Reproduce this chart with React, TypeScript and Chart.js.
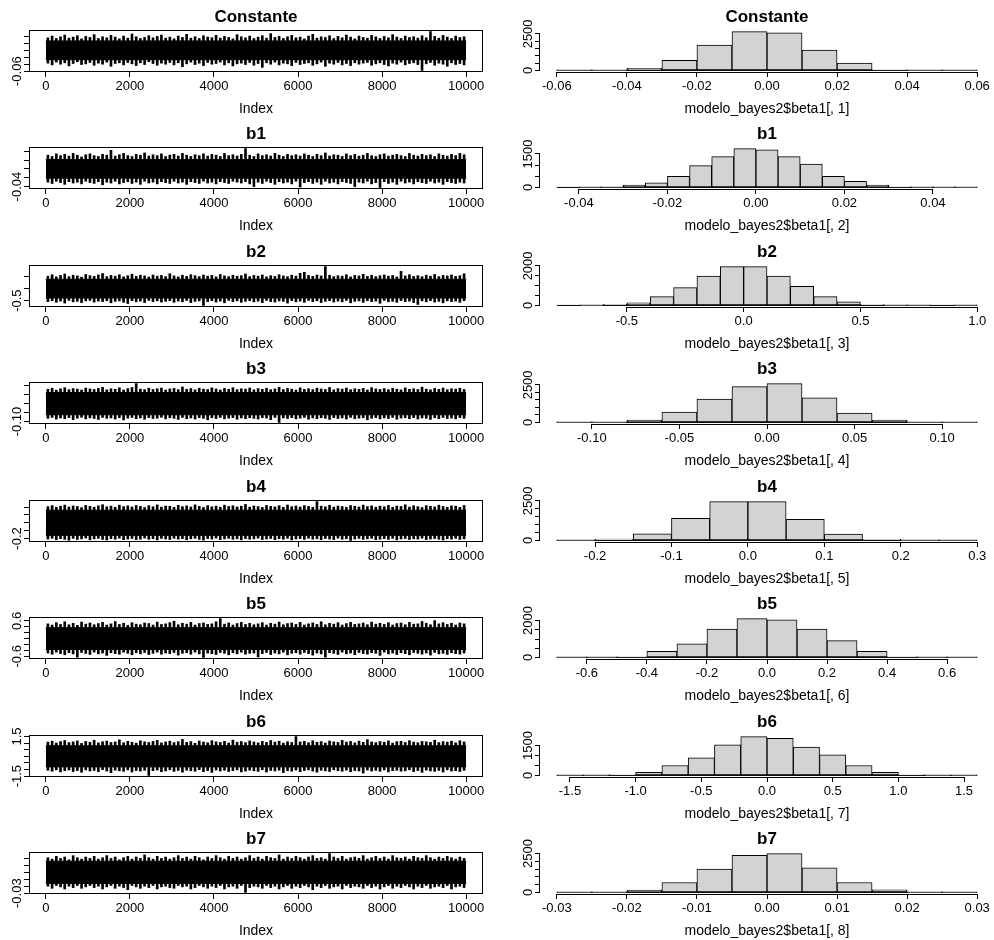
import React, { useEffect, useRef } from "react";
import { Chart, registerables } from "chart.js";

Chart.register(...registerables);

const FONT = "'Liberation Sans', Arial, Helvetica, sans-serif";

// ---------- titles ----------
const paramTitles = ["Constante", "b1", "b2", "b3", "b4", "b5", "b6", "b7"];
const histXTitles = [
  "modelo_bayes2$beta1[, 1]",
  "modelo_bayes2$beta1[, 2]",
  "modelo_bayes2$beta1[, 3]",
  "modelo_bayes2$beta1[, 4]",
  "modelo_bayes2$beta1[, 5]",
  "modelo_bayes2$beta1[, 6]",
  "modelo_bayes2$beta1[, 7]",
  "modelo_bayes2$beta1[, 8]",
];
const traceXTitle = "Index";
const traceIndexTicks = [0, 2000, 4000, 6000, 8000, 10000];
const traceIterations = 10000;
const traceBinWidth = 100;

// ---------- trace envelopes (max / min of each block of 100 iterations) ----------
const constTraceHi = [0.036,0.041,0.034,0.039,0.044,0.035,0.038,0.042,0.033,0.040,0.037,0.045,0.034,0.039,0.036,0.043,0.038,0.033,0.041,0.035,0.047,0.039,0.034,0.037,0.042,0.036,0.040,0.044,0.035,0.038,0.033,0.041,0.037,0.046,0.035,0.039,0.034,0.042,0.038,0.036,0.043,0.035,0.040,0.037,0.033,0.045,0.039,0.036,0.041,0.034,0.038,0.042,0.035,0.048,0.037,0.040,0.034,0.039,0.043,0.036,0.038,0.033,0.041,0.046,0.035,0.039,0.037,0.042,0.034,0.040,0.036,0.044,0.038,0.033,0.041,0.037,0.035,0.043,0.039,0.034,0.040,0.036,0.045,0.038,0.034,0.041,0.037,0.039,0.035,0.042,0.036,0.054,0.040,0.035,0.043,0.038,0.034,0.041,0.037,0.039];
const constTraceLo = [-0.037,-0.042,-0.034,-0.040,-0.036,-0.045,-0.038,-0.033,-0.041,-0.039,-0.035,-0.043,-0.037,-0.040,-0.034,-0.046,-0.038,-0.036,-0.042,-0.035,-0.039,-0.044,-0.036,-0.041,-0.033,-0.038,-0.043,-0.037,-0.040,-0.035,-0.042,-0.036,-0.047,-0.039,-0.034,-0.041,-0.037,-0.044,-0.035,-0.040,-0.038,-0.034,-0.042,-0.036,-0.045,-0.039,-0.037,-0.041,-0.035,-0.043,-0.038,-0.049,-0.036,-0.040,-0.034,-0.042,-0.037,-0.039,-0.044,-0.035,-0.041,-0.038,-0.036,-0.043,-0.039,-0.034,-0.046,-0.037,-0.040,-0.035,-0.042,-0.038,-0.044,-0.036,-0.040,-0.037,-0.035,-0.043,-0.039,-0.036,-0.041,-0.045,-0.037,-0.040,-0.034,-0.042,-0.038,-0.036,-0.041,-0.058,-0.039,-0.035,-0.043,-0.037,-0.040,-0.046,-0.036,-0.041,-0.038,-0.042];
const b1TraceHi = [0.031,0.028,0.034,0.030,0.033,0.029,0.035,0.031,0.027,0.032,0.034,0.030,0.028,0.033,0.031,0.042,0.029,0.032,0.035,0.030,0.028,0.033,0.031,0.036,0.029,0.032,0.030,0.034,0.028,0.031,0.033,0.029,0.035,0.031,0.028,0.032,0.030,0.034,0.029,0.033,0.031,0.028,0.035,0.030,0.032,0.029,0.033,0.046,0.031,0.028,0.034,0.030,0.032,0.029,0.035,0.031,0.028,0.033,0.030,0.032,0.029,0.034,0.031,0.028,0.033,0.030,0.036,0.029,0.032,0.031,0.028,0.034,0.030,0.033,0.029,0.031,0.035,0.030,0.028,0.032,0.034,0.029,0.031,0.033,0.030,0.028,0.035,0.031,0.029,0.033,0.030,0.032,0.028,0.034,0.031,0.029,0.033,0.030,0.035,0.032];
const b1TraceLo = [-0.030,-0.033,-0.028,-0.031,-0.035,-0.029,-0.032,-0.030,-0.034,-0.028,-0.031,-0.033,-0.029,-0.036,-0.030,-0.032,-0.028,-0.034,-0.031,-0.029,-0.033,-0.030,-0.035,-0.028,-0.032,-0.030,-0.034,-0.029,-0.031,-0.033,-0.028,-0.032,-0.030,-0.035,-0.029,-0.031,-0.033,-0.028,-0.032,-0.030,-0.034,-0.029,-0.031,-0.033,-0.028,-0.030,-0.032,-0.029,-0.034,-0.040,-0.030,-0.033,-0.028,-0.031,-0.035,-0.029,-0.032,-0.030,-0.034,-0.028,-0.041,-0.031,-0.029,-0.033,-0.030,-0.035,-0.028,-0.032,-0.030,-0.034,-0.029,-0.031,-0.033,-0.040,-0.030,-0.032,-0.028,-0.034,-0.031,-0.042,-0.029,-0.033,-0.030,-0.035,-0.028,-0.032,-0.030,-0.034,-0.029,-0.031,-0.033,-0.028,-0.032,-0.030,-0.035,-0.029,-0.031,-0.033,-0.030,-0.032];
const b2TraceHi = [0.52,0.58,0.49,0.55,0.61,0.50,0.56,0.53,0.48,0.59,0.54,0.51,0.57,0.63,0.50,0.55,0.52,0.58,0.49,0.54,0.60,0.51,0.56,0.53,0.48,0.57,0.52,0.55,0.50,0.62,0.53,0.49,0.56,0.51,0.58,0.54,0.50,0.57,0.52,0.55,0.49,0.59,0.53,0.50,0.56,0.52,0.54,0.61,0.50,0.55,0.52,0.57,0.49,0.54,0.51,0.58,0.53,0.50,0.56,0.52,0.64,0.68,0.55,0.51,0.57,0.53,0.92,0.56,0.50,0.54,0.52,0.58,0.49,0.55,0.53,0.60,0.51,0.56,0.50,0.54,0.57,0.52,0.55,0.49,0.72,0.53,0.58,0.51,0.54,0.50,0.56,0.52,0.59,0.50,0.55,0.53,0.57,0.51,0.54,0.62];
const b2TraceLo = [-0.54,-0.50,-0.57,-0.52,-0.60,-0.49,-0.55,-0.53,-0.58,-0.51,-0.49,-0.56,-0.52,-0.54,-0.50,-0.59,-0.53,-0.51,-0.57,-0.62,-0.50,-0.55,-0.52,-0.58,-0.49,-0.54,-0.51,-0.56,-0.53,-0.50,-0.57,-0.52,-0.55,-0.49,-0.58,-0.53,-0.51,-0.70,-0.54,-0.50,-0.56,-0.52,-0.59,-0.49,-0.54,-0.51,-0.57,-0.53,-0.50,-0.55,-0.52,-0.58,-0.49,-0.54,-0.56,-0.51,-0.53,-0.60,-0.50,-0.55,-0.52,-0.57,-0.49,-0.54,-0.51,-0.58,-0.53,-0.50,-0.56,-0.52,-0.55,-0.49,-0.59,-0.53,-0.51,-0.57,-0.50,-0.54,-0.52,-0.61,-0.49,-0.55,-0.53,-0.57,-0.50,-0.54,-0.52,-0.58,-0.66,-0.51,-0.55,-0.50,-0.56,-0.53,-0.59,-0.51,-0.54,-0.52,-0.57,-0.50];
const b3TraceHi = [0.080,0.086,0.075,0.083,0.089,0.078,0.084,0.081,0.076,0.087,0.082,0.079,0.085,0.091,0.077,0.083,0.080,0.088,0.076,0.084,0.090,0.112,0.081,0.078,0.086,0.079,0.083,0.087,0.076,0.082,0.085,0.078,0.093,0.080,0.084,0.077,0.086,0.081,0.079,0.088,0.082,0.076,0.085,0.080,0.089,0.078,0.083,0.081,0.087,0.077,0.084,0.080,0.086,0.078,0.082,0.091,0.079,0.085,0.081,0.076,0.088,0.080,0.083,0.078,0.086,0.082,0.079,0.090,0.077,0.084,0.081,0.087,0.078,0.083,0.080,0.085,0.076,0.089,0.082,0.079,0.084,0.078,0.086,0.081,0.077,0.088,0.080,0.083,0.079,0.092,0.081,0.077,0.085,0.080,0.087,0.078,0.083,0.081,0.086,0.079];
const b3TraceLo = [-0.082,-0.077,-0.086,-0.080,-0.084,-0.078,-0.089,-0.081,-0.076,-0.085,-0.079,-0.083,-0.088,-0.077,-0.082,-0.080,-0.086,-0.078,-0.091,-0.081,-0.077,-0.084,-0.080,-0.087,-0.078,-0.083,-0.081,-0.076,-0.085,-0.079,-0.082,-0.088,-0.077,-0.084,-0.080,-0.086,-0.078,-0.082,-0.090,-0.079,-0.083,-0.077,-0.085,-0.081,-0.078,-0.087,-0.080,-0.084,-0.079,-0.082,-0.086,-0.078,-0.081,-0.089,-0.077,-0.105,-0.080,-0.083,-0.078,-0.085,-0.081,-0.077,-0.087,-0.080,-0.084,-0.079,-0.082,-0.088,-0.078,-0.083,-0.080,-0.086,-0.077,-0.084,-0.081,-0.079,-0.090,-0.082,-0.078,-0.085,-0.080,-0.083,-0.077,-0.087,-0.081,-0.079,-0.084,-0.078,-0.086,-0.080,-0.082,-0.088,-0.079,-0.084,-0.077,-0.083,-0.081,-0.085,-0.078,-0.082];
const b4TraceHi = [0.205,0.218,0.196,0.211,0.225,0.200,0.214,0.207,0.193,0.221,0.209,0.198,0.216,0.230,0.203,0.212,0.197,0.224,0.206,0.215,0.201,0.219,0.208,0.194,0.217,0.204,0.227,0.199,0.213,0.210,0.196,0.222,0.205,0.215,0.200,0.228,0.208,0.195,0.219,0.203,0.212,0.198,0.224,0.207,0.216,0.201,0.210,0.233,0.199,0.214,0.206,0.195,0.220,0.209,0.202,0.217,0.196,0.226,0.205,0.213,0.200,0.218,0.208,0.197,0.270,0.211,0.203,0.223,0.199,0.214,0.207,0.196,0.219,0.210,0.201,0.225,0.206,0.215,0.198,0.212,0.204,0.221,0.197,0.213,0.208,0.229,0.200,0.216,0.205,0.194,0.218,0.209,0.202,0.224,0.207,0.198,0.215,0.211,0.196,0.220];
const b4TraceLo = [-0.208,-0.197,-0.216,-0.203,-0.211,-0.222,-0.199,-0.213,-0.205,-0.194,-0.217,-0.206,-0.198,-0.212,-0.219,-0.202,-0.210,-0.196,-0.215,-0.207,-0.200,-0.214,-0.209,-0.195,-0.211,-0.204,-0.218,-0.199,-0.207,-0.213,-0.197,-0.209,-0.203,-0.216,-0.205,-0.198,-0.212,-0.220,-0.201,-0.208,-0.195,-0.214,-0.206,-0.199,-0.211,-0.204,-0.217,-0.201,-0.209,-0.205,-0.196,-0.213,-0.207,-0.200,-0.215,-0.203,-0.210,-0.198,-0.218,-0.206,-0.201,-0.212,-0.197,-0.209,-0.204,-0.216,-0.200,-0.208,-0.214,-0.196,-0.210,-0.203,-0.225,-0.207,-0.199,-0.212,-0.205,-0.197,-0.215,-0.209,-0.202,-0.211,-0.198,-0.217,-0.206,-0.200,-0.213,-0.204,-0.208,-0.196,-0.214,-0.207,-0.201,-0.210,-0.219,-0.203,-0.209,-0.198,-0.212,-0.205];
const b5TraceHi = [0.50,0.46,0.54,0.48,0.57,0.47,0.52,0.45,0.56,0.49,0.53,0.47,0.51,0.55,0.46,0.50,0.58,0.48,0.52,0.45,0.54,0.49,0.47,0.53,0.51,0.46,0.56,0.48,0.50,0.54,0.59,0.47,0.52,0.49,0.55,0.46,0.51,0.53,0.48,0.50,0.57,0.68,0.49,0.53,0.46,0.51,0.55,0.48,0.52,0.47,0.50,0.54,0.46,0.52,0.49,0.56,0.47,0.51,0.53,0.48,0.55,0.46,0.50,0.53,0.48,0.57,0.47,0.52,0.49,0.54,0.46,0.51,0.55,0.48,0.50,0.53,0.47,0.56,0.49,0.52,0.48,0.54,0.46,0.51,0.53,0.47,0.55,0.49,0.50,0.58,0.52,0.47,0.61,0.50,0.54,0.48,0.52,0.46,0.53,0.50];
const b5TraceLo = [-0.49,-0.53,-0.46,-0.51,-0.55,-0.48,-0.52,-0.63,-0.47,-0.50,-0.54,-0.46,-0.52,-0.49,-0.57,-0.48,-0.51,-0.53,-0.46,-0.50,-0.55,-0.48,-0.52,-0.47,-0.54,-0.50,-0.46,-0.53,-0.49,-0.51,-0.47,-0.56,-0.50,-0.48,-0.53,-0.46,-0.52,-0.64,-0.49,-0.51,-0.54,-0.47,-0.50,-0.55,-0.48,-0.52,-0.46,-0.53,-0.50,-0.49,-0.62,-0.51,-0.47,-0.54,-0.49,-0.52,-0.46,-0.55,-0.50,-0.48,-0.53,-0.47,-0.51,-0.56,-0.49,-0.52,-0.63,-0.48,-0.50,-0.54,-0.46,-0.52,-0.49,-0.55,-0.47,-0.51,-0.53,-0.48,-0.50,-0.57,-0.46,-0.52,-0.49,-0.54,-0.48,-0.51,-0.55,-0.47,-0.50,-0.53,-0.49,-0.56,-0.47,-0.52,-0.50,-0.54,-0.48,-0.51,-0.53,-0.49];
const b6TraceHi = [1.08,1.15,1.01,1.12,1.20,1.04,1.10,1.17,0.98,1.13,1.06,1.22,1.02,1.11,1.16,1.05,1.09,1.25,1.03,1.14,1.07,1.00,1.18,1.10,1.05,1.13,1.21,1.02,1.09,1.15,1.04,1.11,1.28,1.06,1.12,0.99,1.16,1.08,1.03,1.19,1.10,1.05,1.14,1.01,1.23,1.07,1.12,1.04,1.17,1.09,1.02,1.13,1.06,1.20,1.08,1.15,1.00,1.11,1.05,1.50,1.09,1.14,1.03,1.18,1.07,1.12,1.01,1.16,1.10,1.05,1.21,1.08,1.13,1.02,1.15,1.06,1.26,1.09,1.04,1.12,1.07,1.17,1.00,1.11,1.14,1.05,1.19,1.08,1.03,1.13,1.10,1.06,1.22,1.04,1.12,1.08,1.15,1.02,1.18,1.09];
const b6TraceLo = [-1.06,-1.13,-1.02,-1.18,-1.09,-1.04,-1.15,-1.08,-1.21,-1.03,-1.11,-1.07,-1.16,-1.01,-1.12,-1.24,-1.05,-1.10,-1.14,-1.03,-1.19,-1.08,-1.12,-1.06,-1.45,-1.09,-1.04,-1.17,-1.11,-1.02,-1.14,-1.07,-1.20,-1.05,-1.10,-1.13,-1.01,-1.16,-1.08,-1.22,-1.04,-1.11,-1.06,-1.15,-1.09,-1.03,-1.18,-1.12,-1.05,-1.10,-1.14,-1.02,-1.19,-1.07,-1.11,-1.05,-1.23,-1.09,-1.13,-1.04,-1.16,-1.08,-1.03,-1.12,-1.20,-1.06,-1.10,-1.15,-1.02,-1.09,-1.13,-1.05,-1.17,-1.08,-1.11,-1.27,-1.04,-1.12,-1.07,-1.14,-1.03,-1.18,-1.09,-1.06,-1.13,-1.10,-1.02,-1.16,-1.08,-1.21,-1.05,-1.11,-1.14,-1.07,-1.19,-1.03,-1.12,-1.09,-1.15,-1.06];
const b7TraceHi = [0.021,0.019,0.023,0.020,0.022,0.018,0.024,0.021,0.019,0.022,0.020,0.023,0.019,0.021,0.024,0.020,0.022,0.018,0.021,0.023,0.019,0.022,0.020,0.025,0.021,0.019,0.023,0.020,0.022,0.019,0.021,0.024,0.020,0.022,0.019,0.023,0.021,0.018,0.022,0.020,0.024,0.021,0.019,0.023,0.020,0.022,0.019,0.021,0.024,0.020,0.022,0.019,0.023,0.021,0.020,0.025,0.019,0.022,0.020,0.023,0.021,0.019,0.022,0.024,0.020,0.021,0.019,0.027,0.022,0.020,0.023,0.019,0.021,0.022,0.020,0.024,0.019,0.021,0.023,0.020,0.022,0.019,0.024,0.021,0.020,0.022,0.019,0.023,0.021,0.020,0.024,0.021,0.019,0.022,0.020,0.023,0.021,0.019,0.022,0.020];
const b7TraceLo = [-0.020,-0.023,-0.019,-0.021,-0.024,-0.020,-0.022,-0.019,-0.023,-0.021,-0.019,-0.022,-0.020,-0.024,-0.021,-0.019,-0.023,-0.020,-0.022,-0.025,-0.019,-0.021,-0.023,-0.020,-0.022,-0.019,-0.024,-0.021,-0.020,-0.022,-0.023,-0.019,-0.021,-0.020,-0.024,-0.022,-0.019,-0.021,-0.023,-0.020,-0.022,-0.019,-0.024,-0.021,-0.020,-0.023,-0.019,-0.029,-0.022,-0.020,-0.021,-0.023,-0.019,-0.022,-0.020,-0.024,-0.021,-0.019,-0.023,-0.020,-0.022,-0.019,-0.021,-0.025,-0.020,-0.022,-0.019,-0.023,-0.021,-0.020,-0.024,-0.019,-0.022,-0.020,-0.021,-0.023,-0.019,-0.022,-0.020,-0.024,-0.021,-0.019,-0.023,-0.020,-0.022,-0.019,-0.021,-0.024,-0.020,-0.022,-0.019,-0.023,-0.021,-0.020,-0.022,-0.019,-0.024,-0.021,-0.020,-0.022];

// dense (solid) part of each trace
const traceCoreLo = [-0.027, -0.021, -0.39, -0.062, -0.16, -0.37, -0.80, -0.016];
const traceCoreHi = [0.027, 0.021, 0.39, 0.062, 0.16, 0.37, 0.80, 0.016];

// trace y-axis ticks and the labels R manages to print
const traceYTicks = [
  [-0.06, -0.04, -0.02, 0, 0.02, 0.04],
  [-0.04, -0.02, 0, 0.02, 0.04],
  [-0.5, 0, 0.5],
  [-0.10, -0.05, 0, 0.05, 0.10],
  [-0.2, -0.1, 0, 0.1, 0.2],
  [-0.6, -0.4, -0.2, 0, 0.2, 0.4, 0.6],
  [-1.5, -1.0, -0.5, 0, 0.5, 1.0, 1.5],
  [-0.03, -0.02, -0.01, 0, 0.01, 0.02],
];
const traceYLabels = [["-0.06"], ["-0.04"], ["-0.5"], ["-0.10"], ["-0.2"], ["-0.6", "0.6"], ["-1.5", "1.5"], ["-0.03"]];

// ---------- histograms ----------
const constBreaks = [-0.06,-0.05,-0.04,-0.03,-0.02,-0.01,0,0.01,0.02,0.03,0.04,0.05,0.06];
const constCounts = [1,2,140,690,1740,2660,2570,1390,510,35,3,1];
const b1Breaks = [-0.045,-0.04,-0.035,-0.03,-0.025,-0.02,-0.015,-0.01,-0.005,0,0.005,0.01,0.015,0.02,0.025,0.03,0.035,0.04,0.045,0.05];
const b1Counts = [0,1,8,105,210,495,976,1381,1741,1682,1381,1051,495,270,105,30,6,1,1];
const b2Breaks = [-0.8,-0.7,-0.6,-0.5,-0.4,-0.3,-0.2,-0.1,0,0.1,0.2,0.3,0.4,0.5,0.6,0.7,0.8,0.9,1.0];
const b2Counts = [0,1,60,133,450,900,1483,1967,1967,1483,967,450,183,50,5,1,0,1];
const b3Breaks = [-0.12,-0.10,-0.08,-0.06,-0.04,-0.02,0,0.02,0.04,0.06,0.08,0.10,0.12];
const b3Counts = [1,3,155,686,1549,2389,2588,1637,620,155,4,1];
const b4Breaks = [-0.25,-0.2,-0.15,-0.1,-0.05,0,0.05,0.1,0.15,0.2,0.25,0.3];
const b4Counts = [1,80,417,1396,2458,2458,1333,396,70,3,1];
const b5Breaks = [-0.7,-0.6,-0.5,-0.4,-0.3,-0.2,-0.1,0,0.1,0.2,0.3,0.4,0.5,0.6,0.7];
const b5Counts = [1,5,36,327,745,1545,2109,2036,1545,909,327,36,5,1];
const b6Breaks = [-1.6,-1.4,-1.2,-1.0,-0.8,-0.6,-0.4,-0.2,0,0.2,0.4,0.6,0.8,1.0,1.2,1.4,1.6];
const b6Counts = [1,3,33,150,500,883,1533,1950,1867,1417,1033,500,150,33,3,1];
const b7Breaks = [-0.03,-0.025,-0.02,-0.015,-0.01,-0.005,0,0.005,0.01,0.015,0.02,0.025,0.03];
const b7Counts = [1,3,150,641,1496,2393,2500,1581,641,171,3,1];

const histXTickLabels = [
  ["-0.06", "-0.04", "-0.02", "0.00", "0.02", "0.04", "0.06"],
  ["-0.04", "-0.02", "0.00", "0.02", "0.04"],
  ["-0.5", "0.0", "0.5", "1.0"],
  ["-0.10", "-0.05", "0.00", "0.05", "0.10"],
  ["-0.2", "-0.1", "0.0", "0.1", "0.2", "0.3"],
  ["-0.6", "-0.4", "-0.2", "0.0", "0.2", "0.4", "0.6"],
  ["-1.5", "-1.0", "-0.5", "0.0", "0.5", "1.0", "1.5"],
  ["-0.03", "-0.02", "-0.01", "0.00", "0.01", "0.02", "0.03"],
];
const histYTicks = [
  [0, 500, 1000, 1500, 2000, 2500],
  [0, 500, 1000, 1500],
  [0, 500, 1000, 1500, 2000],
  [0, 500, 1000, 1500, 2000, 2500],
  [0, 500, 1000, 1500, 2000, 2500],
  [0, 500, 1000, 1500, 2000],
  [0, 500, 1000, 1500],
  [0, 500, 1000, 1500, 2000, 2500],
];
const histYLabels = [["0", "2500"], ["0", "1500"], ["0", "2000"], ["0", "2500"], ["0", "2500"], ["0", "2000"], ["0", "1500"], ["0", "2500"]];

const traceHi = [constTraceHi, b1TraceHi, b2TraceHi, b3TraceHi, b4TraceHi, b5TraceHi, b6TraceHi, b7TraceHi];
const traceLo = [constTraceLo, b1TraceLo, b2TraceLo, b3TraceLo, b4TraceLo, b5TraceLo, b6TraceLo, b7TraceLo];
const histBreaks = [constBreaks, b1Breaks, b2Breaks, b3Breaks, b4Breaks, b5Breaks, b6Breaks, b7Breaks];
const histCounts = [constCounts, b1Counts, b2Counts, b3Counts, b4Counts, b5Counts, b6Counts, b7Counts];

// ---------- layout ----------
const ROW_H = 117.5;
const CANVAS_H = 118;
const COL_W = 497;
const PLOT_TOP = 30;
const PLOT_BOTTOM = 72;
const TRACE_LEFT = 29;
const TRACE_RIGHT_PAD = 14;
const HIST_LEFT = 43;
const TICK_FONT = { family: FONT, size: 13 };
const LAB_FONT = { family: FONT, size: 14 };

function rPlugin(title: string, yLabels: string[], boxed: boolean) {
  return {
    id: "rstyle",
    afterDraw(chart: any) {
      const { ctx, chartArea: a, scales } = chart;
      const xs = scales.x;
      const ys = scales.y;
      ctx.save();
      ctx.strokeStyle = "#000";
      ctx.fillStyle = "#000";
      ctx.lineWidth = 1;
      if (boxed) {
        ctx.strokeRect(Math.round(a.left) + 0.5, Math.round(a.top) + 0.5, Math.round(a.right - a.left) - 1, Math.round(a.bottom - a.top) - 1);
      } else {
        const xt = xs.ticks;
        const x0 = xs.getPixelForValue(xt[0].value);
        const x1 = xs.getPixelForValue(xt[xt.length - 1].value);
        const yb = Math.round(a.bottom) + 0.5;
        ctx.beginPath();
        ctx.moveTo(x0, yb);
        ctx.lineTo(x1, yb);
        ctx.stroke();
        const yt = ys.ticks;
        const y0 = ys.getPixelForValue(yt[0].value);
        const y1 = ys.getPixelForValue(yt[yt.length - 1].value);
        const xl = Math.round(a.left) - 0.5;
        ctx.beginPath();
        ctx.moveTo(xl, y0);
        ctx.lineTo(xl, y1);
        ctx.stroke();
      }
      ctx.textAlign = "center";
      ctx.textBaseline = "middle";
      ctx.font = `bold 17px ${FONT}`;
      ctx.fillText(title, (a.left + a.right) / 2, 17);
      ctx.font = `13px ${FONT}`;
      for (const lab of yLabels) {
        const py = ys.getPixelForValue(Number(lab));
        ctx.save();
        ctx.translate(a.left - 11.5, py);
        ctx.rotate(-Math.PI / 2);
        ctx.fillText(lab, 0, 0);
        ctx.restore();
      }
      ctx.restore();
    },
  };
}

function TracePanel({ idx, top }: { idx: number; top: number }) {
  const ref = useRef<HTMLCanvasElement>(null);
  useEffect(() => {
    const hi = traceHi[idx];
    const lo = traceLo[idx];
    const dmin = Math.min(...lo);
    const dmax = Math.max(...hi);
    const ext = 0.04 * (dmax - dmin);
    const centers = hi.map((_, i) => traceBinWidth / 2 + traceBinWidth * i);
    const xExt = 0.04 * traceIterations;
    const chart = new Chart(ref.current as HTMLCanvasElement, {
      type: "bar",
      data: {
        datasets: [
          {
            type: "line",
            data: [{ x: 0, y: traceCoreHi[idx] }, { x: traceIterations, y: traceCoreHi[idx] }],
            borderColor: "#000",
            borderWidth: 1,
            pointRadius: 0,
            backgroundColor: "#000",
            fill: "+1",
          } as any,
          {
            type: "line",
            data: [{ x: 0, y: traceCoreLo[idx] }, { x: traceIterations, y: traceCoreLo[idx] }],
            borderColor: "#000",
            borderWidth: 1,
            pointRadius: 0,
            fill: false,
          } as any,
          {
            type: "bar",
            data: centers.map((x, i) => ({ x, y: [lo[i], hi[i]] })),
            backgroundColor: "#000",
            borderWidth: 0,
            barThickness: 2,
          } as any,
        ],
      },
      options: {
        responsive: false,
        animation: false,
        devicePixelRatio: 1,
        layout: { padding: { top: PLOT_TOP, left: 0, right: TRACE_RIGHT_PAD, bottom: 0 } },
        plugins: { legend: { display: false }, tooltip: { enabled: false }, title: { display: false } },
        scales: {
          x: {
            type: "linear",
            min: -xExt,
            max: traceIterations + xExt,
            offset: false,
            afterBuildTicks: (s: any) => { s.ticks = traceIndexTicks.map((v) => ({ value: v })); },
            afterFit: (s: any) => { s.height = CANVAS_H - PLOT_BOTTOM; },
            ticks: { autoSkip: false, maxRotation: 0, minRotation: 0, padding: 2, color: "#000", font: TICK_FONT, callback: (v: any) => String(v) },
            grid: { display: true, drawOnChartArea: false, drawTicks: true, tickLength: 5, color: "#000", offset: false },
            border: { display: false },
            title: { display: true, text: traceXTitle, color: "#000", font: LAB_FONT, padding: { top: 0, bottom: 0 } },
          },
          y: {
            type: "linear",
            min: dmin - ext,
            max: dmax + ext,
            afterBuildTicks: (s: any) => { s.ticks = traceYTicks[idx].map((v) => ({ value: v })); },
            afterFit: (s: any) => { s.width = TRACE_LEFT; },
            ticks: { display: false },
            grid: { display: true, drawOnChartArea: false, drawTicks: true, tickLength: 5, color: "#000" },
            border: { display: false },
          },
        },
      } as any,
      plugins: [rPlugin(paramTitles[idx], traceYLabels[idx], true)],
    });
    return () => chart.destroy();
  }, [idx]);
  return (
    <canvas
      ref={ref}
      width={COL_W}
      height={CANVAS_H}
      style={{ position: "absolute", left: 0, top, width: COL_W, height: CANVAS_H, display: "block" }}
    />
  );
}

function HistPanel({ idx, top }: { idx: number; top: number }) {
  const ref = useRef<HTMLCanvasElement>(null);
  useEffect(() => {
    const breaks = histBreaks[idx];
    const counts = histCounts[idx];
    const b0 = breaks[0];
    const bN = breaks[breaks.length - 1];
    const span = bN - b0;
    const maxC = Math.max(...counts);
    const centers = counts.map((_, i) => (breaks[i] + breaks[i + 1]) / 2);
    const labels = histXTickLabels[idx];
    const chart = new Chart(ref.current as HTMLCanvasElement, {
      type: "bar",
      data: {
        datasets: [
          {
            type: "bar",
            data: centers.map((x, i) => ({ x, y: counts[i] })),
            backgroundColor: "#d3d3d3",
            borderColor: "#000",
            borderWidth: 1,
            borderSkipped: false,
            barPercentage: 1,
            categoryPercentage: 1,
          } as any,
          {
            type: "line",
            data: [{ x: b0, y: 0 }, { x: bN, y: 0 }],
            borderColor: "#000",
            borderWidth: 1,
            pointRadius: 0,
            fill: false,
          } as any,
        ],
      },
      options: {
        responsive: false,
        animation: false,
        devicePixelRatio: 1,
        layout: { padding: { top: PLOT_TOP, left: 0, right: 0, bottom: 0 } },
        plugins: { legend: { display: false }, tooltip: { enabled: false }, title: { display: false } },
        scales: {
          x: {
            type: "linear",
            min: b0 - 0.04 * span,
            max: bN + 0.04 * span,
            offset: false,
            afterBuildTicks: (s: any) => { s.ticks = labels.map((l) => ({ value: Number(l) })); },
            afterFit: (s: any) => { s.height = CANVAS_H - PLOT_BOTTOM; },
            ticks: { autoSkip: false, maxRotation: 0, minRotation: 0, padding: 2, color: "#000", font: TICK_FONT, callback: (_v: any, i: number) => labels[i] },
            grid: { display: true, drawOnChartArea: false, drawTicks: true, tickLength: 5, color: "#000", offset: false },
            border: { display: false },
            title: { display: true, text: histXTitles[idx], color: "#000", font: LAB_FONT, padding: { top: 0, bottom: 0 } },
          },
          y: {
            type: "linear",
            min: -0.04 * maxC,
            max: 1.04 * maxC,
            afterBuildTicks: (s: any) => { s.ticks = histYTicks[idx].map((v) => ({ value: v })); },
            afterFit: (s: any) => { s.width = HIST_LEFT; },
            ticks: { display: false },
            grid: { display: true, drawOnChartArea: false, drawTicks: true, tickLength: 5, color: "#000" },
            border: { display: false },
          },
        },
      } as any,
      plugins: [rPlugin(paramTitles[idx], histYLabels[idx], false)],
    });
    return () => chart.destroy();
  }, [idx]);
  return (
    <canvas
      ref={ref}
      width={COL_W}
      height={CANVAS_H}
      style={{ position: "absolute", left: COL_W, top, width: COL_W, height: CANVAS_H, display: "block" }}
    />
  );
}

export default function App() {
  return (
    <div style={{ position: "absolute", left: 0, top: 0, width: 994, height: 940, background: "#fff", overflow: "hidden" }}>
      {paramTitles.map((_, r) => (
        <React.Fragment key={r}>
          <TracePanel idx={r} top={Math.floor(ROW_H * r)} />
          <HistPanel idx={r} top={Math.floor(ROW_H * r)} />
        </React.Fragment>
      ))}
    </div>
  );
}
